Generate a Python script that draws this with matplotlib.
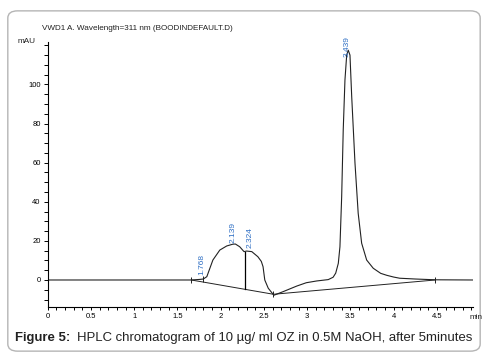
import matplotlib.pyplot as plt
from matplotlib.patches import FancyBboxPatch
from matplotlib.ticker import MultipleLocator

plt.rcParams['font.family'] = ['Liberation Sans', 'DejaVu Sans']

# chromatogram signal (min, mAU)
time = [0, 1.66, 1.76, 1.80, 1.84, 1.91, 1.99, 2.07, 2.14, 2.17, 2.22, 2.27, 2.30, 2.36,
        2.43, 2.47, 2.49, 2.51, 2.55, 2.615, 2.72, 2.88, 2.99, 3.11, 3.244, 3.30, 3.33,
        3.36, 3.379, 3.399, 3.417, 3.437, 3.457, 3.475, 3.495, 3.515, 3.553, 3.59, 3.63,
        3.688, 3.764, 3.85, 3.92, 4.0, 4.07, 4.25, 4.48, 4.92]
signal = [0, 0, 0.3, 0.5, 1.7, 10.2, 15.3, 17.4, 18.3, 18.4, 17.0, 14.5, 14.8, 14.5,
          11.9, 9.5, 6.8, 0, -4.2, -7.8, -6.0, -3.1, -1.4, -0.5, 0.2, 1.4, 3.5,
          8.5, 17, 42.6, 76.7, 102.3, 115, 117.5, 115, 93.8, 59.7, 34.1, 18.8,
          10.2, 6.0, 3.4, 2.4, 1.5, 0.9, 0.5, 0.1, 0]

# integration baseline and drop line
base_t = [1.66, 2.61, 4.48]
base_v = [0, -7.3, 0]
drop_t = 2.28
drop_top = 14.5
drop_bottom = -4.8
mark_t = [1.80]
mark_v = [0.5]

# retention time labels
rt_labels = ['1.768', '2.139', '2.324', '3.439']
rt_x = [1.78, 2.146, 2.339, 3.468]
rt_y = [2.6, 18.8, 16.2, 114]

x_ticks = [0, 0.5, 1, 1.5, 2, 2.5, 3, 3.5, 4, 4.5]
y_ticks = [0, 20, 40, 60, 80, 100]

fig = plt.figure(figsize=(4.88, 3.62), dpi=100)
frame = FancyBboxPatch((0.016, 0.03), 0.968, 0.94, boxstyle='round,pad=0,rounding_size=0.02',
                       transform=fig.transFigure, facecolor='none', edgecolor='#b5b5b5',
                       linewidth=1.0, zorder=-1)
fig.patches.append(frame)

ax = fig.add_axes([0.0977, 0.152, 0.8715, 0.732])
ax.patch.set_alpha(0)
ax.plot(time, signal, color='#222222', lw=0.8)
ax.plot(base_t, base_v, color='#222222', lw=0.7)
ax.plot([drop_t, drop_t], [drop_top, drop_bottom], color='black', lw=0.9)
ax.plot(base_t, base_v, ls='none', marker='|', ms=4, mew=0.7, color='#222222')
ax.plot(mark_t, mark_v, ls='none', marker='|', ms=4, mew=0.7, color='#222222')

for lab, x, y in zip(rt_labels, rt_x, rt_y):
    ax.text(x, y, lab, rotation=90, ha='center', va='bottom', fontsize=6,
            color='#2f6fc4', clip_on=False)

ax.set_xlim(0, 4.917)
ax.set_ylim(-13.8, 121.7)
ax.set_xticks(x_ticks)
ax.set_xticklabels([f'{v:g}' for v in x_ticks])
ax.set_yticks(y_ticks)
ax.xaxis.set_minor_locator(MultipleLocator(0.1))
ax.yaxis.set_minor_locator(MultipleLocator(5))
for s in ['top', 'right']:
    ax.spines[s].set_visible(False)
for s in ['left', 'bottom']:
    ax.spines[s].set_linewidth(0.8)
ax.tick_params(axis='x', which='both', direction='out', length=2.5, width=0.7, labelsize=5.5, pad=2)
ax.tick_params(axis='y', which='both', direction='out', length=3, width=0.7, labelsize=5.5, pad=2)

fig.text(0.0865, 0.92, 'VWD1 A. Wavelength=311 nm (BOODINDEFAULT.D)', fontsize=5.9,
         va='center', ha='left', color='#222222')
fig.text(0.035, 0.884, 'mAU', fontsize=5.9, va='center', ha='left', color='#222222')
fig.text(0.963, 0.132, 'min', fontsize=5.9, va='top', ha='left', color='#222222')

fig.text(0.03, 0.066, 'Figure 5:', fontsize=9.45, fontweight='bold', va='center', ha='left',
         color='#222222')
fig.text(0.158, 0.066, 'HPLC chromatogram of 10 µg/ ml OZ in 0.5M NaOH, after 5minutes',
         fontsize=9.45, va='center', ha='left', color='#222222')

fig.savefig('out.png', dpi=100)
